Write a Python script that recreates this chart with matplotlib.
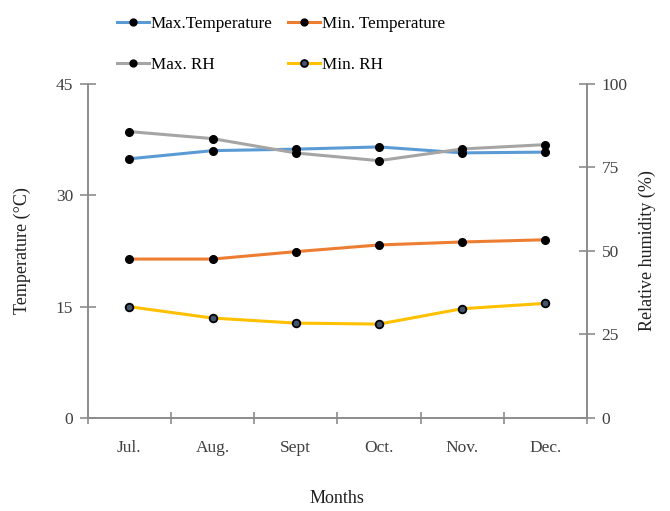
import numpy as np
import matplotlib.pyplot as plt
from matplotlib.ticker import FixedLocator

plt.rcParams['font.family'] = ['Liberation Serif', 'DejaVu Serif']

months = ['Jul.', 'Aug.', 'Sept', 'Oct.', 'Nov.', 'Dec.']
max_temp = [34.9, 36.0, 36.2, 36.5, 35.7, 35.8]
min_temp = [21.4, 21.4, 22.4, 23.3, 23.7, 24.0]
max_rh = [85.7, 83.6, 79.3, 77.0, 80.5, 81.8]
min_rh = [33.3, 29.9, 28.4, 28.1, 32.7, 34.3]

x = np.arange(len(months))
axis_grey = '#8c8c8c'
text_col = '#404040'

fig = plt.figure(figsize=(6.7, 5.11), dpi=100)
ax = fig.add_axes([0.131, 0.182, 0.745, 0.654])
ax2 = ax.twinx()

lw = 2.2
l1, = ax.plot(x, max_temp, color='#5B9BD5', lw=lw, marker='o', ms=5.5,
              mfc='black', mec='black', label='Max.Temperature')
l2, = ax.plot(x, min_temp, color='#ED7D31', lw=lw, marker='o', ms=5.5,
              mfc='black', mec='black', label='Min. Temperature')
l3, = ax2.plot(x, max_rh, color='#A5A5A5', lw=lw, marker='o', ms=5.5,
               mfc='black', mec='black', label='Max. RH')
l4, = ax2.plot(x, min_rh, color='#FFC000', lw=lw, marker='o', ms=5.5,
               mfc='#44546A', mec='black', mew=1.3, label='Min. RH')

ax.set_xlim(-0.5, len(months) - 0.5)
ax.set_ylim(0, 45)
ax2.set_ylim(0, 100)
ax.set_yticks([0, 15, 30, 45])
ax2.set_yticks([0, 25, 50, 75, 100])

# category labels centred, tick marks on the category boundaries
ax.set_xticks(x)
ax.set_xticklabels(months)
ax.xaxis.set_minor_locator(FixedLocator(np.arange(-0.5, len(months), 1.0)))
ax.tick_params(axis='x', which='major', length=0, pad=16)
ax.tick_params(axis='x', which='minor', length=9, direction='inout',
               color=axis_grey, width=1.2)

for a in (ax, ax2):
    a.spines['top'].set_visible(False)
    for s in ('left', 'right', 'bottom'):
        a.spines[s].set_color(axis_grey)
        a.spines[s].set_linewidth(1.2)
    a.tick_params(axis='y', length=11, direction='inout', color=axis_grey,
                  width=1.2, labelsize=12.5, labelcolor=text_col, pad=5)
ax.tick_params(axis='x', labelsize=12.5, labelcolor=text_col)

ax.set_ylabel('Temperature (°C)', fontsize=13, color='#202020', labelpad=18)
ax2.set_ylabel('Relative humidity (%)', fontsize=13, color='#202020', labelpad=8)
ax.set_xlabel('Months', fontsize=13, color='#202020', labelpad=24)

# two rows: temperatures on top, humidity below
fig.legend(handles=[l1, l3, l2, l4], ncol=2, loc='upper left',
           bbox_to_anchor=(0.151, 0.999), frameon=False, fontsize=12.3,
           handlelength=1.9, handletextpad=0.1, columnspacing=0.9,
           labelspacing=1.45, markerscale=0.9)

fig.savefig('out.png', dpi=100)
